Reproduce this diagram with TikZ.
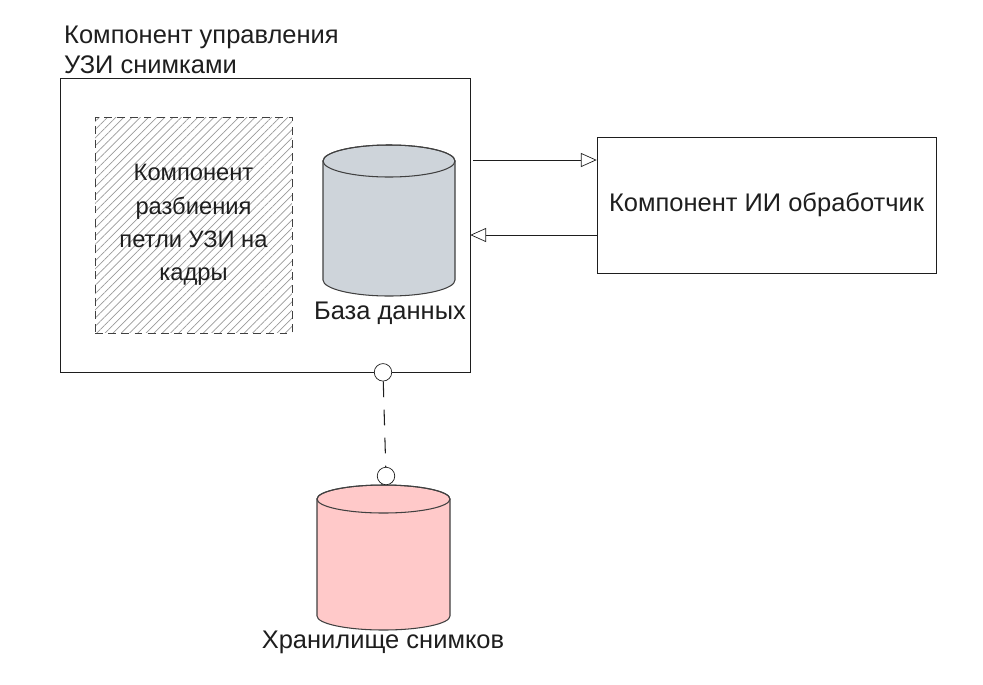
\documentclass[tikz,border=0pt]{standalone}
\usepackage{fontspec}
\setmainfont{Liberation Sans}
\usetikzlibrary{patterns.meta,arrows.meta}
\definecolor{dbgray}{HTML}{CED4DA}
\definecolor{storepink}{HTML}{FFC9C9}
\definecolor{ink}{HTML}{1E1E1E}

\begin{document}
\begin{tikzpicture}
	[x=0.02cm,y=-0.02cm,
	box/.style={draw=ink,thin,inner sep=0pt},
	drum/.style={draw=ink!85,semithick},
	link/.style={-{Triangle[open,length=9pt,width=8pt]},thin,ink},
	port/.style={circle,draw=ink,fill=white,thin,inner sep=0pt,minimum size=0.35cm},
	txt/.style={font=\fontsize{14.5}{17}\selectfont,align=center,text=ink}]
	\useasboundingbox (0,0) rectangle (983,684);

	% the outer component with its title
	\node[box,minimum width=8.2cm,minimum height=5.88cm] (uzi) at (265,225) {};
	\node[txt,align=left,anchor=north west] (title) at (58,20) {Компонент управления\\УЗИ снимками};

	% the hatched inner component
	\node[draw=ink!85,thin,dash pattern=on 4.5pt off 3pt,pattern={Lines[angle=45,distance=3.3pt,line width=0.4pt]},pattern color=gray!80,minimum width=3.94cm,minimum height=4.32cm] (split) at (193.5,225) {};
	\node[txt,font=\fontsize{13.5}{19}\selectfont] (splittext) at (split.center) {Компонент\\разбиения\\петли УЗИ на\\кадры};

	% the database drum
	\filldraw[drum,fill=dbgray] (323,161) -- (323,280) arc[start angle=180,end angle=0,x radius=66,y radius=16]
		-- (455,161) arc[start angle=0,end angle=-180,x radius=66,y radius=16] -- cycle;
	\draw[drum] (389,161) ellipse[x radius=66,y radius=16];
	\coordinate (base) at (389,220);
	\node[txt] (basetext) at (390,313) {База данных};

	% the AI component on the right
	\node[box,minimum width=6.78cm,minimum height=2.72cm,txt] (ai) at (766.5,205) {Компонент ИИ обработчик};

	% the two links between them
	\draw[link] ([xshift=0.06cm]uzi.east |- 0,160) -- (ai.west |- 0,160);
	\draw[link] (ai.west |- 0,235) -- (uzi.east |- 0,235);

	% the storage drum with its port
	\filldraw[drum,fill=storepink] (317,499) -- (317,616) arc[start angle=180,end angle=0,x radius=66.5,y radius=14]
		-- (450,499) arc[start angle=0,end angle=-180,x radius=66.5,y radius=14] -- cycle;
	\draw[drum] (383.5,499) ellipse[x radius=66.5,y radius=14];
	\coordinate (store) at (383.5,557);
	\node[txt] (storetext) at (383,642) {Хранилище снимков};
	\node[port] (upper) at (uzi.south -| 383,0) {};
	\node[port] (lower) at (386,476) {};
	\draw[semithick,ink,dash pattern=on 9pt off 7pt] (upper) -- (lower);
\end{tikzpicture}
\end{document}
